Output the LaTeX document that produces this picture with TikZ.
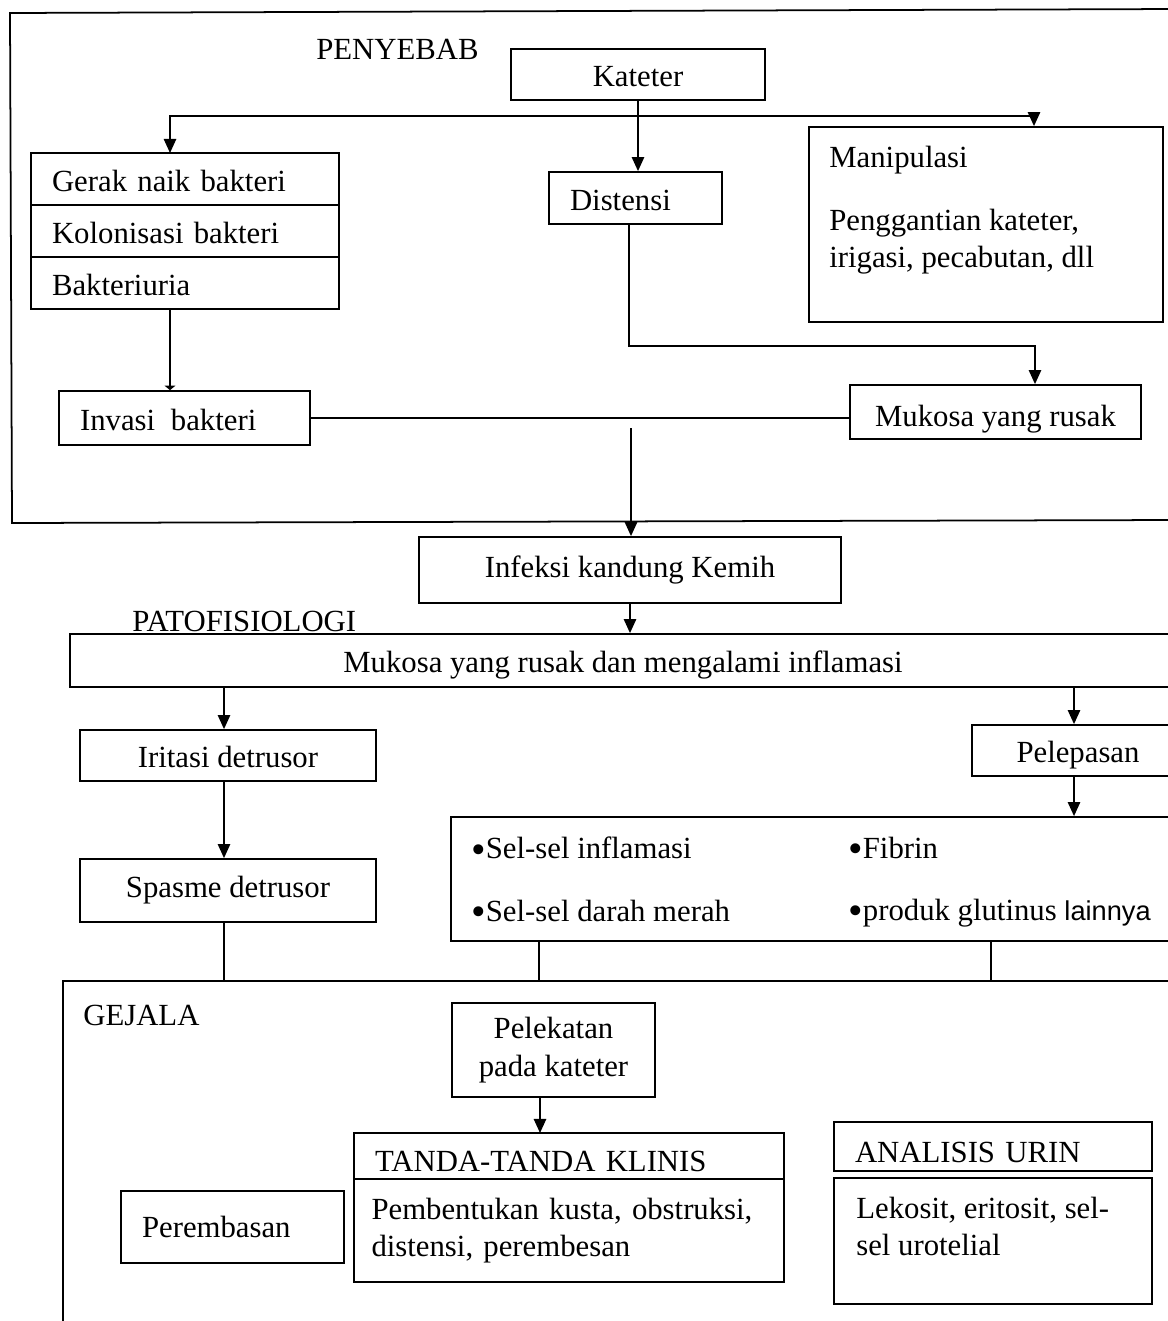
\documentclass[tikz,border=0pt]{standalone}
\usepackage{fontspec}
\setmainfont{Liberation Serif}
\newfontfamily\lainfont{Liberation Sans}
\usepackage{tikz}
\usetikzlibrary{arrows.meta,positioning,calc}
\newcommand{\bul}{\raisebox{-2.6pt}{\scalebox{1.35}{•}}}

\begin{document}
\begin{tikzpicture}[x=0.02cm,y=-0.02cm,
        font=\fontsize{17.5}{21}\selectfont,
        frame/.style={draw,line width=1pt,rectangle,inner sep=2pt},
        box/.style={frame,text height=14.2pt,text depth=0pt},
        lbox/.style={box,align=left,inner xsep=0.42cm},
        rowbox/.style={lbox,text width=5.32cm,minimum height=1.04cm,outer sep=0pt},
        label/.style={inner sep=0pt},
        line/.style={line width=1pt},
        arrow/.style={-{Triangle[length=8pt,width=7pt]},line width=1pt},
        smallarrow/.style={-{Triangle[length=2.5pt,width=6pt]},line width=1pt}
    ]
        \path[use as bounding box,fill=white] (0,0) rectangle (1168,1321);
        % PENYEBAB
        \draw[line] (1180,9) -- (10,13) -- (12,523) -- (1180,520);
        \node[label,anchor=base west] (penyebab) at (316,60) {PENYEBAB};
        \node[box,minimum width=5.08cm,minimum height=1.02cm] (kateter) at (638,74.5) {Kateter};
        \node[rowbox] (gerak) at (185,179) {Gerak naik bakteri};
        \node[rowbox,below=0pt of gerak] (koloni) {Kolonisasi bakteri};
        \node[rowbox,below=0pt of koloni] (bakteri) {Bakteriuria};
        \node[lbox,text width=2.62cm,minimum height=1.04cm] (distensi) at (635.5,198) {Distensi};
        \node[frame,minimum width=7.08cm,minimum height=3.9cm] (manip) at (986,224.5) {};
        \node[label,anchor=north west,align=left] (maniptxt) at (829,146)
            {Manipulasi\\[15pt]Penggantian kateter,\\irigasi, pecabutan, dll};
        \node[lbox,text width=4.18cm,minimum height=1.08cm] (invasi) at (184.5,418) {Invasi\hspace{9pt}bakteri};
        \node[box,text height=16.5pt,minimum width=5.82cm,minimum height=1.08cm] (mukosa) at (995.5,412) {Mukosa yang rusak};
        \node[frame,minimum width=8.44cm,minimum height=1.32cm] (infeksi) at (630,570) {Infeksi kandung Kemih};
        \path (kateter.south) ++(0,15) coordinate (hub);
        \coordinate (join) at (631,428);
        \draw[arrow] (kateter.south) -- (kateter.south |- distensi.north);
        \draw[arrow] (hub) -| ([xshift=-0.3cm]gerak.north);
        \draw[arrow] (hub) -| ([xshift=0.96cm]manip.north);
        \draw[smallarrow] ([xshift=-0.3cm]bakteri.south) -- ([xshift=-0.3cm]bakteri.south |- invasi.north);
        \draw[arrow] ([xshift=-0.13cm]distensi.south) -- ++(0,121) -| ([xshift=0.79cm]mukosa.north);
        \draw[line] (invasi.east) -- (invasi.east -| mukosa.west);
        \draw[arrow] (join) -- (join |- infeksi.north);
        % PATOFISIOLOGI
        \node[label,anchor=base west] (patofis) at (132,631) {PATOFISIOLOGI};
        \node[box,minimum width=22.12cm,minimum height=1.06cm] (inflam) at (623,660.5)
            {Mukosa yang rusak dan mengalami inflamasi};
        \node[box,minimum width=5.92cm,minimum height=1.02cm] (iritasi) at (228,755.5) {Iritasi detrusor};
        \node[frame,minimum width=5.92cm,minimum height=1.26cm] (spasme) at (228,890.5) {Spasme detrusor};
        \node[box,minimum width=4.24cm,minimum height=1.02cm] (pelepasan) at (1078,750.5) {Pelepasan};
        \node[frame,minimum width=14.68cm,minimum height=2.48cm] (selbox) at (818,879) {};
        \node[label,anchor=west] (sel1) at (471,850) {\bul Sel-sel inflamasi};
        \node[label,anchor=west] (sel2) at (471,913) {\bul Sel-sel darah merah};
        \node[label,anchor=west] (fibrin) at (848,850) {\bul Fibrin};
        \node[label,anchor=west] (glutin) at (848,913)
            {\bul produk glutinus {\lainfont\fontsize{15.5}{18}\selectfont lainnya}};
        \draw[arrow] (infeksi.south) -- (infeksi.south |- inflam.north);
        \draw[arrow] ([xshift=-0.08cm]iritasi.north |- inflam.south) -- ([xshift=-0.08cm]iritasi.north);
        \draw[arrow] ([xshift=-0.08cm]iritasi.south) -- ([xshift=-0.08cm]spasme.north);
        \draw[arrow] ([xshift=-0.08cm]pelepasan.north |- inflam.south) -- ([xshift=-0.08cm]pelepasan.north);
        \draw[arrow] ([xshift=-0.08cm]pelepasan.south) -- ([xshift=-0.08cm]pelepasan.south |- selbox.north);
        % GEJALA
        \node[frame,minimum width=22.34cm,minimum height=6.98cm] (gejala) at (621.5,1155.5) {};
        \node[label,anchor=west] (gejalatxt) at (83,1015) {GEJALA};
        \node[frame,align=center,font=\fontsize{17.5}{22}\selectfont,
              minimum width=4.06cm,minimum height=1.88cm] (pelekatan) at (553.5,1050)
            {Pelekatan\\pada kateter};
        \node[lbox,text height=18pt,text width=7.76cm,minimum height=0.92cm,outer sep=0pt] (tandahead) at (569,1156)
            {TANDA-TANDA KLINIS};
        \node[frame,align=left,text width=7.9cm,inner xsep=0.35cm,minimum height=2.06cm,outer sep=0pt,
              below=0pt of tandahead] (tandabody) {Pembentukan kusta, obstruksi,\\distensi, perembesan};
        \node[frame,align=left,inner xsep=0.42cm,text width=3.62cm,minimum height=1.44cm] (perembasan) at (232.5,1227)
            {Perembasan};
        \node[lbox,text height=18pt,text width=5.52cm,minimum height=0.98cm] (analisis) at (993,1146.5) {ANALISIS URIN};
        \node[frame,minimum width=6.36cm,minimum height=2.52cm,below=0.1cm of analisis] (lekosit) {};
        \node[label,anchor=north west,align=left] (lekosittxt) at (856,1197)
            {Lekosit, eritosit, sel-\\sel urotelial};
        \draw[line] ([xshift=-0.08cm]spasme.south) -- ([xshift=-0.08cm]spasme.south |- gejala.north);
        \draw[line] ([xshift=1.78cm]selbox.south west) -- ([xshift=1.78cm]selbox.south west |- gejala.north);
        \draw[line] ([xshift=10.82cm]selbox.south west) -- ([xshift=10.82cm]selbox.south west |- gejala.north);
        \draw[arrow] ([xshift=-0.27cm]pelekatan.south) -- ([xshift=-0.27cm]pelekatan.south |- tandahead.north);
    \end{tikzpicture}
\end{document}
